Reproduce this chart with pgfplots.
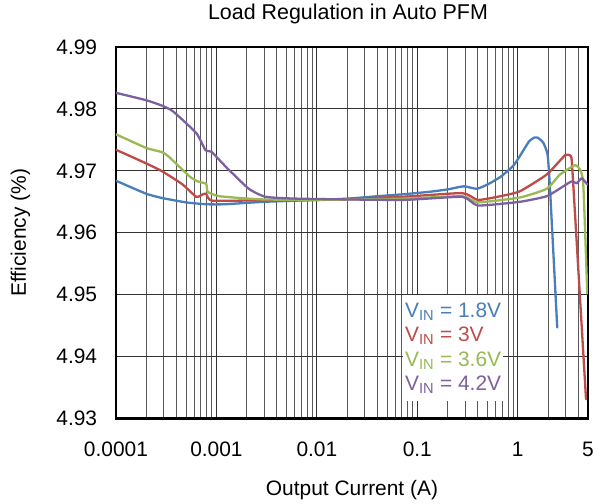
\documentclass[border=0pt]{standalone}
\usepackage{pgfplots}
\pgfplotsset{compat=1.18}
\usepackage{fontspec}
\setmainfont{Liberation Sans}
\definecolor{cblue}{HTML}{4A7EBB}
\definecolor{cred}{HTML}{BE4B48}
\definecolor{cgreen}{HTML}{98B954}
\definecolor{cpurple}{HTML}{7D60A0}
\begin{document}
\begin{tikzpicture}[font=\fontsize{21}{25.2}\selectfont]
\useasboundingbox (-116bp,-85.5bp) rectangle (488bp,418.5bp);
\begin{axis}[
  at={(0,0)}, anchor=south west,
  scale only axis, width=472bp, height=371.5bp,
  xmode=log, xmin=0.0001, xmax=5,
  ymin=4.93, ymax=4.99,
  xtick={0.0001,0.001,0.01,0.1,1,5},
  xticklabels={0.0001,0.001,0.01,0.1,1,5},
  minor xtick={2e-4,3e-4,4e-4,5e-4,6e-4,7e-4,8e-4,9e-4,
    0.002,0.003,0.004,0.005,0.006,0.007,0.008,0.009,
    0.02,0.03,0.04,0.05,0.06,0.07,0.08,0.09,
    0.2,0.3,0.4,0.5,0.6,0.7,0.8,0.9,2,3,4},
  ytick={4.93,4.94,4.95,4.96,4.97,4.98,4.99},
  yticklabel={\pgfmathprintnumber[fixed,fixed zerofill,precision=2]{\tick}},
  /pgf/number format/assume math mode=true,
  grid=both,
  major grid style={black!80, line width=0.9bp},
  minor grid style={black!65, line width=0.9bp},
  major tick length=0pt, minor tick length=0pt,
  axis line style={black, line width=2.4bp},
  tick label style={font=\fontsize{21}{25.2}\selectfont},
  xticklabel style={anchor=base, yshift=-38.2bp, inner sep=0pt},
  yticklabel style={anchor=east, xshift=-18.7bp, inner sep=0pt},
  title={Load Regulation in Auto PFM},
  title style={at={(axis description cs:0.5,1)}, anchor=base, yshift=22bp, xshift=-4bp, font=\fontsize{21.5}{25.2}\selectfont},
  xlabel={Output Current (A)},
  xlabel style={at={(axis description cs:0.5,-0.2086)}, anchor=base, font=\fontsize{21}{25.2}\selectfont},
  ylabel={Efficiency (\%)},
  ylabel style={at={(axis description cs:-0.1907,0.5)}, anchor=base, rotate=0, font=\fontsize{21}{25.2}\selectfont},
  legend image code/.code={},
  legend cell align=left,
  legend style={at={(axis description cs:0.608,0.3324)}, anchor=north west,
    draw=none, fill=white, inner xsep=2bp, inner ysep=4.2bp, row sep=0pt,
    font=\fontsize{21}{25.2}\selectfont,
    nodes={inner sep=0pt, text height=17.8bp, text depth=6.6bp, anchor=west}},
  /tikz/every even column/.append style={column sep=0pt},
  every axis plot/.append style={line width=2.3bp, line join=round, line cap=round, smooth, tension=0.3},
]
% V_IN = 1.8V
\addplot[cblue] coordinates {
(1e-4,4.9684) (2e-4,4.9663) (2.9e-4,4.9656) (5e-4,4.9649) (8e-4,4.9646)
(1.2e-3,4.9646) (3e-3,4.9650) (0.01,4.9653) (0.02,4.9655) (0.04,4.9659)
(0.07,4.9662) (0.13,4.9666) (0.2,4.9670) (0.29,4.9675) (0.39,4.9671)
(0.5,4.9678) (0.67,4.9690) (0.9,4.9708) (1.05,4.9724) (1.3,4.9748)
(1.48,4.9754) (1.6,4.9753) (1.8,4.9745) (1.98,4.9726) (2.09,4.9673) (2.47,4.9447)
};
\addlegendentry{\textcolor{cblue}{V\textsubscript{IN} = 1.8V}}
% V_IN = 3V
\addplot[cred] coordinates {
(1e-4,4.9734) (2e-4,4.9712) (2.9e-4,4.9699) (4.6e-4,4.9678) (6.3e-4,4.9658)
(7.3e-4,4.9662) (7.9e-4,4.9663) (8.9e-4,4.9652) (2e-3,4.9652) (0.01,4.9653)
(0.07,4.9658) (0.28,4.9664) (0.4,4.9653) (0.67,4.9659) (1.05,4.9667)
(1.94,4.9694) (2.95,4.9725) (3.31,4.9725) (3.44,4.9718) (3.65,4.9651) (4.78,4.9331)
};
\addlegendentry{\textcolor{cred}{V\textsubscript{IN} = 3V}}
% V_IN = 3.6V
\addplot[cgreen] coordinates {
(1e-4,4.9759) (2e-4,4.9737) (2.9e-4,4.9730) (3.4e-4,4.9722) (5.4e-4,4.9691)
(6.5e-4,4.9683) (7.9e-4,4.9679) (8.2e-4,4.9666) (1.07e-3,4.9659) (2.7e-3,4.9654)
(0.01,4.9653) (0.07,4.9655) (0.28,4.9659) (0.4,4.9649) (1.05,4.9657)
(1.94,4.9671) (2.63,4.9694) (3.71,4.9709) (4.16,4.9702) (4.49,4.9678) (4.92,4.9502)
};
\addlegendentry{\textcolor{cgreen}{V\textsubscript{IN} = 3.6V}}
% V_IN = 4.2V
\addplot[cpurple] coordinates {
(1e-4,4.9826) (2e-4,4.9814) (2.9e-4,4.9805) (3.7e-4,4.9796) (6.3e-4,4.9761)
(7.8e-4,4.9733) (8.9e-4,4.9731) (1.25e-3,4.9706) (2.1e-3,4.9671) (3.1e-3,4.9658)
(6.6e-3,4.9655) (0.07,4.9653) (0.28,4.9658) (0.4,4.9644) (1.05,4.9650)
(1.94,4.9659) (2.84,4.9675) (3.44,4.9683) (3.86,4.9680) (4.33,4.9688) (4.92,4.9678)
};
\addlegendentry{\textcolor{cpurple}{V\textsubscript{IN} = 4.2V}}
\end{axis}
\end{tikzpicture}
\end{document}
